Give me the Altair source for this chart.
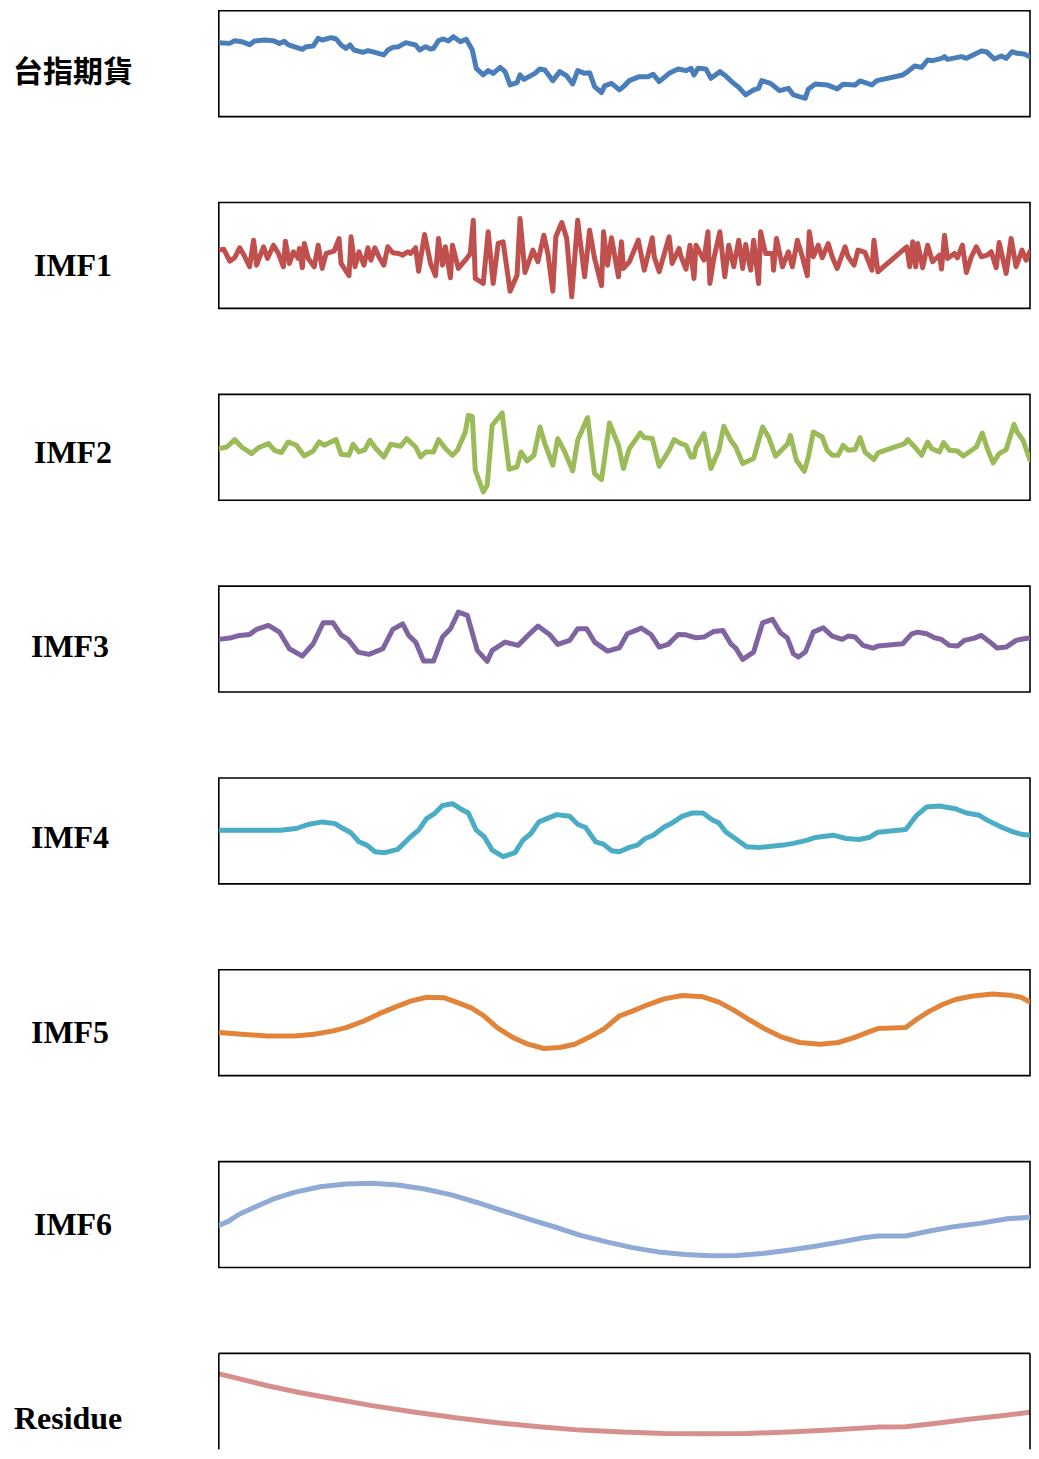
import altair as alt
import pandas as pd

# Horizontal axis: trading-day position (0..816), vertical: level (0 = top of panel, 106 = bottom)
taiex = [(0,32),(11,32.7),(16,30),(23,31),(31,34),(36,30.3),(46,29.3),(55,30),(61,32.7),(66,30.7),
         (70,34.3),(78,36.7),(84,38.7),(88,36),(95,35.3),(100,27.7),(104,29.3),(113,27),(118,28.3),(123,34.3),
         (128,37.7),(132,34.3),(136,39.3),(145,41.7),(150,40),(158,42),(166,44.3),(170,39.3),(175,36.7),(181,36),
         (188,32),(198,34.3),(202,39.3),(208,36),(213,38.3),(216,37.7),(221,30),(226,28.3),(231,30.3),(236,26),
         (243,31),(249,28.7),(255,39.3),(259,57.7),(266,64.3),(271,60),(276,62.7),(283,56.7),(288,61),(293,74.3),
         (300,72),(303,64.3),(307,68.7),(318,62.7),(323,58.3),(328,59.3),(336,70),(343,61),(350,65.3),(356,73.3),
         (361,60),(368,62.7),(373,62),(378,76),(385,82),(388,75.3),(395,72.7),(403,79.3),(407,76),(413,70),
         (423,66),(432,66),(437,63.7),(443,71),(453,62.7),(462,58.3),(470,60),(475,57.7),(478,64.3),(482,57.7),
         (490,58.3),(495,67.7),(504,61),(510,65.3),(517,72),(523,76.7),(530,84.3),(538,79.3),(543,77.7),(546,70),
         (555,72.7),(560,76.7),(564,80),(573,77.7),(578,84.3),(590,87.7),(593,78.7),(600,73.3),(612,74.3),(622,78.3),
         (628,73.7),(640,74.3),(645,70.3),(657,74.3),(662,70),(688,64.3),(693,61),(700,55.3),(707,56.7),(713,49.3),
         (718,50),(727,47.7),(730,46),(733,48.7),(747,46),(752,47.7),(767,40.3),(772,41),(780,48.3),(787,45.3),
         (792,47.7),(798,41),(803,42.7),(810,43.3),(816,46)]

imf1 = [(0,47.7),(5,46.7),(11,58.7),(16,55.3),(21,45.3),(25,52),(31,64.3),(35,37.7),(38,62.7),(45,44.3),
        (49,56),(55,42.7),(60,51),(65,64.3),(67,38.7),(71,61),(75,49.3),(80,56),(81,46),(84,65.3),
        (86,41),(90,56),(96,64.3),(100,42.7),(104,66),(108,51),(116,48.7),(121,36),(123,61),(131,73.3),
        (133,34.3),(137,64.3),(141,49.3),(146,62.7),(150,45.3),(153,57.7),(157,45.3),(161,54.3),(166,62.7),(170,44.3),
        (175,50.3),(181,51),(185,52.7),(190,49.3),(193,51),(198,45.3),(201,68.7),(207,32),(213,61),(218,73.3),
        (221,36),(225,62.7),(228,44.3),(233,75.3),(235,42.7),(241,66),(248,57.7),(253,51),(256,17.7),(258,76),
        (266,81),(271,29.3),(276,81),(281,41),(286,39.3),(293,88.7),(300,72.7),(303,16),(308,70),(316,47.7),
        (321,59.3),(324,46),(327,32.7),(331,51),(336,88.7),(339,34.3),(345,20),(350,36),(355,94.3),(361,17.7),
        (368,74.3),(373,27.7),(378,56),(385,83.3),(387,29.3),(391,62.7),(395,35.3),(402,74.3),(405,39.3),(407,66),
        (413,59.3),(422,37.7),(428,67.7),(436,35.3),(438,54.3),(443,69.3),(453,34.3),(456,61),(463,46),(465,54.3),
        (470,66.7),(474,42.7),(478,76),(480,42.7),(488,57.7),(492,29.3),(494,81),(498,56),(504,29.3),(509,74.3),
        (513,42.7),(518,64.3),(523,37.7),(527,66),(530,42),(535,67.7),(538,37.7),(543,81),(545,29.3),(550,51),
        (557,51),(558,67.7),(561,36),(567,64.3),(573,49.3),(577,64.3),(582,37.7),(587,54.3),(592,73.3),(594,29.3),
        (598,54.3),(603,42.7),(607,55.3),(613,41),(617,54.3),(622,66),(630,44.3),(633,54.3),(639,62.7),(643,47.7),
        (650,50),(657,67.7),(659,37.7),(663,69.3),(692,44.3),(695,64.3),(698,39.3),(701,64.3),(703,41),(708,65.3),
        (713,42.7),(718,59.3),(725,52.7),(727,66.7),(730,32.7),(733,56),(740,51),(743,55.3),(748,42.7),(752,70),
        (757,54.3),(762,44.3),(767,54.3),(773,52.7),(777,49.3),(782,65.3),(785,40),(792,71),(797,36),(802,64.3),
        (808,47.7),(812,57.7),(816,48.7)]

imf2 = [(0,54.3),(8,52.7),(16,45.3),(23,52.7),(33,59.3),(40,53.3),(50,49.3),(56,56),(63,58.3),(70,47.7),
        (78,51),(86,61.7),(95,56.7),(101,47.7),(106,51),(118,45.3),(123,60),(131,61),(135,50),(141,57.7),
        (147,55.3),(152,46),(158,54.3),(166,62.7),(173,50),(183,52),(189,44.3),(198,52.7),(203,62.7),(208,57.7),
        (216,57.7),(221,45.3),(228,54.3),(235,61),(240,56),(248,37.7),(251,21),(255,22),(258,76),(266,97.7),
        (270,91),(275,31),(285,18.7),(292,75),(300,72.7),(304,57.7),(310,66.7),(317,61),(323,32.7),(328,49.3),
        (336,71),(341,44.3),(348,57.7),(356,76.7),(361,46),(371,23.3),(378,79.3),(385,85.3),(393,28.7),(402,51),
        (407,74.3),(413,54.3),(424,38.7),(428,43.3),(436,44.3),(443,72),(453,56),(458,45.3),(465,49.3),(470,51),
        (475,62.7),(478,62.7),(480,53.3),(488,39.3),(495,74.3),(503,56),(508,32),(515,46),(520,52.7),(527,69.3),
        (538,64.3),(547,32.7),(553,42.7),(560,62),(572,50),(575,41),(581,66),(589,77),(593,62.7),(598,37.7),
        (607,42.7),(612,56),(617,61),(623,61),(628,51),(633,56),(640,55.3),(645,43.3),(650,57.7),(659,65.3),
        (663,58.7),(690,49.3),(693,45.3),(700,52.7),(707,61),(713,47.7),(717,54.3),(725,57.7),(729,48.3),(735,56),
        (743,56.7),(749,61.7),(762,52.7),(768,38.7),(773,54.3),(779,68.7),(785,59.3),(792,55.3),(800,30),(803,37.7),
        (809,46),(816,66)]

imf3 = [(0,53.3),(11,52),(21,49.3),(31,48.3),(38,43.3),(50,39.3),(61,46),(71,62.7),(84,70),(95,57.7),
        (105,36.7),(115,36.7),(123,48.7),(130,53.3),(140,66),(151,68.3),(165,62.7),(175,43.3),(185,37.7),(191,49.3),
        (198,56),(206,75),(216,75),(225,51),(233,42.7),(241,26),(250,29.3),(260,64.3),(270,75.3),(275,64.3),
        (288,56),(301,59.3),(311,49.3),(321,40),(333,48.7),(341,58.3),(353,54.3),(361,42.7),(370,42.7),(378,56),
        (391,65),(403,61.7),(411,47.7),(425,42),(435,48.7),(443,61),(452,58.3),(462,48.3),(470,48.7),(480,51.7),
        (488,51),(498,45.3),(507,44.3),(515,57.7),(520,62),(527,73.3),(538,66),(547,36.7),(557,33.3),(565,46.7),
        (572,52),(578,67.7),(583,71),(590,66),(598,46),(608,41.7),(617,50),(627,53.3),(633,50),(640,51),
        (648,59.3),(658,62),(663,60),(688,57.7),(697,47.7),(703,46),(712,47.7),(720,51.7),(727,53.3),(735,59.3),
        (743,60),(750,54.3),(760,52),(767,49.3),(775,55.3),(783,62),(792,61),(802,54.3),(810,52.7),(816,52)]

imf4 = [(0,52.3),(28,52.3),(62,52.3),(78,50.6),(91,46.3),(104,44),(117,45.7),(125,50.6),(133,54.9),(141,63.9),
        (149,67.2),(157,73.8),(167,74.8),(180,71.5),(193,58.9),(201,52.3),(209,40.7),(217,35.7),(225,27.5),(235,25.8),
        (243,30.8),(251,35.1),(259,52.3),(267,58.9),(275,72.2),(286,78.8),(298,74.8),(306,62.2),(314,55.6),(322,44),
        (330,40.7),(340,36.7),(353,38.4),(361,46.3),(369,49.6),(379,63.9),(387,66.2),(395,72.8),(403,73.8),(413,69.5),
        (421,67.2),(429,60.6),(437,57.3),(448,49),(455,45.7),(466,38.4),(476,35.1),(487,35.1),(497,42.4),(503,45),
        (510,54),(518,59.6),(531,68.9),(544,69.5),(568,67.2),(578,65.5),(592,62.2),(600,59.6),(618,57.3),(631,60.6),
        (644,61.6),(655,59.3),(663,54.3),(691,51.6),(702,37.4),(712,29.1),(725,28.1),(741,30.8),(752,35.1),(765,37.4),
        (772,41.7),(780,45.7),(788,49.6),(799,54),(807,56.3),(816,57.3)]

imf5 = [(0,62.9),(23,64.5),(49,66.2),(76,66.2),(96,64.5),(115,61.2),(128,57.9),(146,51.3),(162,43.7),(178,37.1),
        (193,31.4),(209,27.5),(227,28.1),(241,33.1),(254,38.1),(267,46.3),(280,57.9),(296,67.9),(311,74.5),(327,78.8),
        (343,77.8),(358,74.5),(372,67.9),(387,59.6),(403,46.3),(416,41.4),(432,34.8),(448,29.1),(466,25.8),(487,27.1),
        (503,32.4),(518,40.4),(534,50.3),(550,59.6),(565,66.9),(584,72.8),(605,74.5),(623,72.8),(639,67.9),(652,62.9),
        (663,58.9),(691,57.9),(702,49.6),(715,41.4),(728,34.8),(741,29.8),(757,26.5),(778,24.2),(796,25.5),(807,27.5),
        (816,32.4)]

imf6 = [(0,63.9),(10,59.6),(20,53),(36,45.7),(55,37.4),(76,30.8),(102,25.2),(128,22.5),(154,21.8),(180,23.5),
        (207,27.5),(233,33.1),(259,40.7),(285,49),(311,57.3),(338,65.5),(364,73.8),(390,80.4),(416,86.1),(442,90.4),
        (469,93),(495,94.3),(521,94),(547,92),(573,88.7),(600,84.7),(626,80.4),(647,76.5),(663,74.5),(691,74.5),
        (715,69.5),(741,64.9),(767,61.6),(793,57.3),(816,55.6)]

residue = [(0,20.5),(18,24.8),(49,32.4),(81,39.1),(117,45.7),(154,52.3),(196,58.6),(238,64.5),(280,69.5),(322,73.5),
           (364,76.8),(406,78.8),(448,80.1),(489,80.4),(531,80.1),(573,78.8),(615,76.8),(663,73.8),(691,73.5),(720,70.2),
           (752,66.2),(783,62.9),(816,58.9)]

names = ["台指期貨", "IMF1", "IMF2", "IMF3", "IMF4", "IMF5", "IMF6", "Residue"]
series = [taiex, imf1, imf2, imf3, imf4, imf5, imf6, residue]
colors = ["#4a7ebb", "#c0504d", "#9bbb59", "#8064a2", "#4bacc6", "#e1843a", "#8eaad5", "#d68f8d"]
label_x = [-206, -185, -185, -188, -188, -188, -185, -205]
label_y = [71, 74, 69, 70.5, 70.5, 73, 73, 76]

W, H = 812, 106
H_LAST = 96          # the last panel runs off the bottom of the page
BORDER = "black"
BW = 1.6

panels = []
n = len(names)
for i, (name, pts, col) in enumerate(zip(names, series, colors)):
    last = (i == n - 1)
    h = H_LAST if last else H
    df = pd.DataFrame(pts, columns=["t", "v"])
    line = alt.Chart(df).mark_line(
        color=col, strokeWidth=5, strokeJoin="round", strokeCap="round", clip=True
    ).encode(
        x=alt.X("t:Q", scale=alt.Scale(domain=[0, 816], nice=False, zero=False), axis=None),
        y=alt.Y("v:Q", scale=alt.Scale(domain=[0, h], nice=False, zero=False, reverse=True), axis=None),
    )
    is_cjk = (i == 0)
    label = alt.Chart(pd.DataFrame({"lab": [name]})).mark_text(
        align="left",
        baseline="alphabetic",
        font="Noto Sans CJK TC" if is_cjk else "Liberation Serif",
        fontSize=30 if is_cjk else 32,
        fontWeight="bold",
        color="black",
    ).encode(text="lab:N", x=alt.value(label_x[i]), y=alt.value(label_y[i]))
    anchor = alt.Chart(pd.DataFrame({"a": [0]})).mark_rule(color="white", strokeWidth=1).encode(
        x=alt.value(-209.5), y=alt.value(0), y2=alt.value(2)
    )
    layers = [line, label, anchor]
    if last:
        one = pd.DataFrame({"a": [0]})
        top = alt.Chart(one).mark_rule(color=BORDER, strokeWidth=BW).encode(
            x=alt.value(0), x2=alt.value(W), y=alt.value(0))
        left = alt.Chart(one).mark_rule(color=BORDER, strokeWidth=BW).encode(
            x=alt.value(0), y=alt.value(0), y2=alt.value(h))
        right = alt.Chart(one).mark_rule(color=BORDER, strokeWidth=BW).encode(
            x=alt.value(W), y=alt.value(0), y2=alt.value(h))
        layers += [top, left, right]
        panel = alt.layer(*layers).properties(width=W, height=h, view=alt.ViewBackground(strokeOpacity=0))
    else:
        panel = alt.layer(*layers).properties(width=W, height=h)
    panels.append(panel)

chart = alt.vconcat(*panels, spacing=86, bounds="flush").configure_view(
    stroke=BORDER, strokeWidth=BW
).properties(padding={"left": 0, "top": 0, "right": 0, "bottom": 0}, background="white")

chart.save("out.html", embed_options={"renderer": "svg", "actions": False})
